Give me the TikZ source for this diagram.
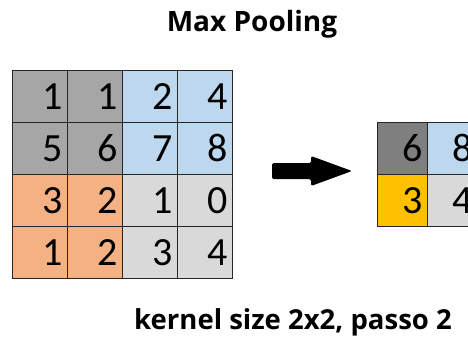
\documentclass[tikz,border=0pt]{standalone}
\usepackage{fontspec}
\setmainfont{Carlito}
\newfontfamily\labelfont{Open Sans}
\definecolor{cgray}{HTML}{A6A6A6}
\definecolor{cblue}{HTML}{BDD7EE}
\definecolor{corange}{HTML}{F4B183}
\definecolor{clight}{HTML}{D9D9D9}
\definecolor{cdark}{HTML}{7F7F7F}
\definecolor{cyellow}{HTML}{FFC000}
\begin{document}
\begin{tikzpicture}[x=1pt,y=-1pt,
  cell/.style={draw=black!85, line width=0.9pt, minimum width=55pt, minimum height=52pt,
    inner xsep=0pt, inner ysep=0pt, text width=46pt, align=right,
    font=\fontsize{40}{44}\selectfont, anchor=north west},
  ocell/.style={cell, minimum width=50pt, text width=41pt},
  heading/.style={font=\labelfont\bfseries\fontsize{28}{32}\selectfont}]
\useasboundingbox (0,0) rectangle (468,338);
\clip (0,0) rectangle (468,338);
\node[heading] (title) at (252,24) {Max Pooling};
% input grid
\node[cell, fill=cgray] (a11) at (12,70) {1};
\node[cell, fill=cgray] (a12) at (67,70) {1};
\node[cell, fill=cblue] (a13) at (122,70) {2};
\node[cell, fill=cblue] (a14) at (177,70) {4};
\node[cell, fill=cgray] (a21) at (12,122) {5};
\node[cell, fill=cgray] (a22) at (67,122) {6};
\node[cell, fill=cblue] (a23) at (122,122) {7};
\node[cell, fill=cblue] (a24) at (177,122) {8};
\node[cell, fill=corange] (a31) at (12,174) {3};
\node[cell, fill=corange] (a32) at (67,174) {2};
\node[cell, fill=clight] (a33) at (122,174) {1};
\node[cell, fill=clight] (a34) at (177,174) {0};
\node[cell, fill=corange] (a41) at (12,226) {1};
\node[cell, fill=corange] (a42) at (67,226) {2};
\node[cell, fill=clight] (a43) at (122,226) {3};
\node[cell, fill=clight] (a44) at (177,226) {4};
% arrow
\fill[black, rounded corners=1.5pt] (272,163) -- (311,163) -- (311,156) -- (352,171) -- (311,186) -- (311,179) -- (272,179) -- cycle;
% output grid
\node[ocell, fill=cdark] (b11) at (377,122) {6};
\node[ocell, fill=cblue] (b12) at (427,122) {8};
\node[ocell, fill=cyellow] (b21) at (377,174) {3};
\node[ocell, fill=clight] (b22) at (427,174) {4};
\node[heading, font=\labelfont\bfseries\fontsize{27.5}{32}\selectfont] (caption) at (293,322) {kernel size 2x2, passo 2};
\end{tikzpicture}
\end{document}
